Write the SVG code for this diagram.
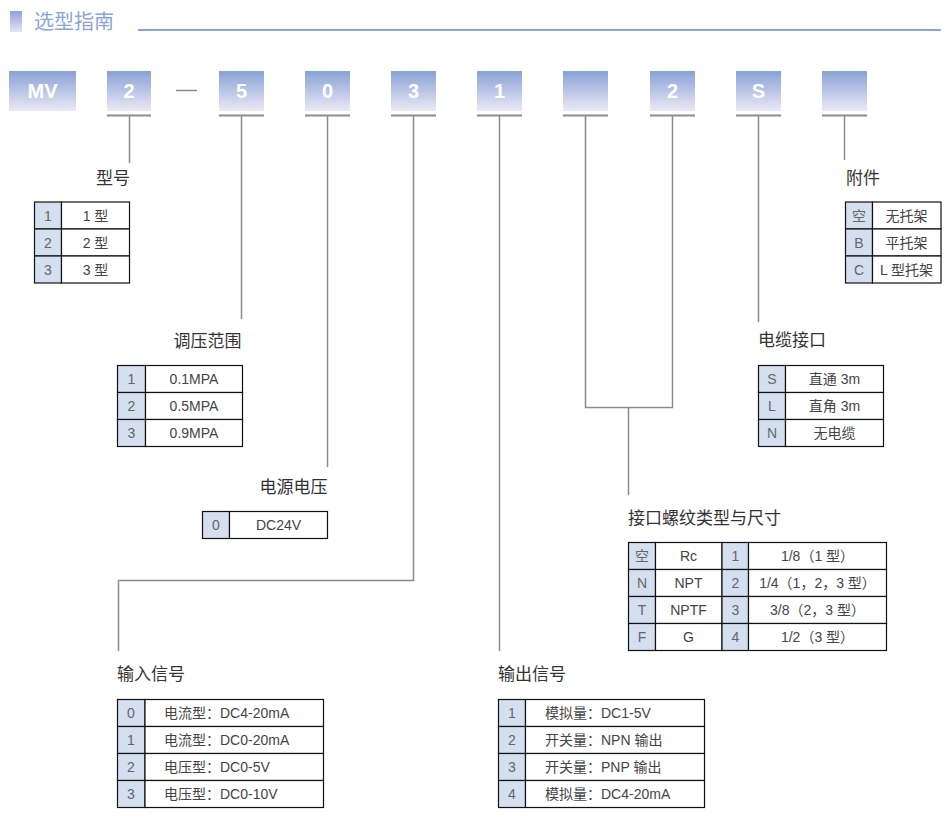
<svg xmlns="http://www.w3.org/2000/svg" width="952" height="819" viewBox="0 0 952 819">
<defs>
<linearGradient id="boxg" x1="0" y1="0" x2="0" y2="1">
<stop offset="0" stop-color="#88a2d5"/>
<stop offset="1" stop-color="#ece9f6"/>
</linearGradient>
<linearGradient id="barg" x1="0" y1="0" x2="0" y2="1">
<stop offset="0" stop-color="#8aa3d6"/>
<stop offset="1" stop-color="#e6e4f4"/>
</linearGradient>
<style>
text{font-family:"Liberation Sans","Noto Sans CJK SC",sans-serif}
.title{font-size:20px;fill:#8ca5d8}
.code{font-size:20px;font-weight:bold;fill:#ffffff;text-anchor:middle}
.lbl{font-size:17px;fill:#333333}
.t{font-size:14px;fill:#444444;text-anchor:middle}
.tl{font-size:14px;fill:#444444}
.k{font-size:14px;fill:#666666;text-anchor:middle}
.box{fill:url(#boxg)}
.ul{stroke:#8c8c8c;stroke-width:2;fill:none}
.cn{stroke:#8c8c8c;stroke-width:1.5;fill:none}
.cell{fill:#ffffff;stroke:#111111;stroke-width:1.2}
.kc{fill:#d4dff0;stroke:#111111;stroke-width:1.2}
</style>
</defs>
<rect width="952" height="819" fill="#ffffff"/>
<g id="header">
<rect x="10" y="11" width="12" height="21" fill="url(#barg)"/>
<text class="title" x="34" y="29">选型指南</text>
<line x1="138" y1="30" x2="941" y2="30" stroke="#8aa4d8" stroke-width="2"/>
</g>
<g id="code-boxes">
<g id="box-mv"><rect class="box" x="9" y="71" width="67" height="40"/><text class="code" x="42.5" y="98">MV</text></g>
<g id="box-2"><rect class="box" x="107" y="71" width="44" height="40"/><text class="code" x="129" y="98">2</text><line class="ul" x1="107" y1="115.5" x2="151" y2="115.5"/></g>
<line id="dash" x1="176" y1="90.5" x2="197" y2="90.5" stroke="#8c8c8c" stroke-width="1.5"/>
<g id="box-5"><rect class="box" x="219" y="71" width="45" height="40"/><text class="code" x="241.5" y="98">5</text><line class="ul" x1="219" y1="115.5" x2="264" y2="115.5"/></g>
<g id="box-0"><rect class="box" x="305" y="71" width="45" height="40"/><text class="code" x="327.5" y="98">0</text><line class="ul" x1="305" y1="115.5" x2="350" y2="115.5"/></g>
<g id="box-3"><rect class="box" x="391" y="71" width="45" height="40"/><text class="code" x="413.5" y="98">3</text><line class="ul" x1="391" y1="115.5" x2="436" y2="115.5"/></g>
<g id="box-1"><rect class="box" x="477" y="71" width="45" height="40"/><text class="code" x="499.5" y="98">1</text><line class="ul" x1="477" y1="115.5" x2="522" y2="115.5"/></g>
<g id="box-blank1"><rect class="box" x="563" y="71" width="45" height="40"/><line class="ul" x1="563" y1="115.5" x2="608" y2="115.5"/></g>
<g id="box-2b"><rect class="box" x="650" y="71" width="45" height="40"/><text class="code" x="672.5" y="98">2</text><line class="ul" x1="650" y1="115.5" x2="695" y2="115.5"/></g>
<g id="box-s"><rect class="box" x="736" y="71" width="45" height="40"/><text class="code" x="758.5" y="98">S</text><line class="ul" x1="736" y1="115.5" x2="781" y2="115.5"/></g>
<g id="box-blank2"><rect class="box" x="822" y="71" width="45" height="40"/><line class="ul" x1="822" y1="115.5" x2="867" y2="115.5"/></g>
</g>
<g id="connectors">
<path class="cn" d="M129.5 116 V163"/>
<path class="cn" d="M241.5 116 V319"/>
<path class="cn" d="M327.5 116 V467"/>
<path class="cn" d="M413.5 116 V580.5 H118.5 V651"/>
<path class="cn" d="M499.5 116 V651"/>
<path class="cn" d="M585.5 116 V407.5 H672.5 V116"/>
<path class="cn" d="M628.5 407.5 V495"/>
<path class="cn" d="M758.5 116 V322"/>
<path class="cn" d="M844.5 116 V160"/>
</g>
<g id="model">
<text class="lbl" x="96" y="184">型号</text>
<rect class="kc" x="34.5" y="202" width="27" height="27"/><rect class="cell" x="61.5" y="202" width="68" height="27"/>
<rect class="kc" x="34.5" y="229" width="27" height="27"/><rect class="cell" x="61.5" y="229" width="68" height="27"/>
<rect class="kc" x="34.5" y="256" width="27" height="27"/><rect class="cell" x="61.5" y="256" width="68" height="27"/>
<text class="k" x="48" y="220.5">1</text><text class="t" x="95.5" y="220.5">1 型</text>
<text class="k" x="48" y="247.5">2</text><text class="t" x="95.5" y="247.5">2 型</text>
<text class="k" x="48" y="274.5">3</text><text class="t" x="95.5" y="274.5">3 型</text>
</g>
<g id="pressure">
<text class="lbl" x="241.5" y="347" text-anchor="end">调压范围</text>
<rect class="kc" x="117.5" y="365.5" width="28" height="27"/><rect class="cell" x="145.5" y="365.5" width="97" height="27"/>
<rect class="kc" x="117.5" y="392.5" width="28" height="27"/><rect class="cell" x="145.5" y="392.5" width="97" height="27"/>
<rect class="kc" x="117.5" y="419.5" width="28" height="27"/><rect class="cell" x="145.5" y="419.5" width="97" height="27"/>
<text class="k" x="131.5" y="384">1</text><text class="t" x="194" y="384">0.1MPA</text>
<text class="k" x="131.5" y="411">2</text><text class="t" x="194" y="411">0.5MPA</text>
<text class="k" x="131.5" y="438">3</text><text class="t" x="194" y="438">0.9MPA</text>
</g>
<g id="power">
<text class="lbl" x="327.5" y="493" text-anchor="end">电源电压</text>
<rect class="kc" x="202.5" y="511.5" width="27" height="27"/><rect class="cell" x="229.5" y="511.5" width="98" height="27"/>
<text class="k" x="216" y="530">0</text><text class="t" x="278.5" y="530">DC24V</text>
</g>
<g id="input">
<text class="lbl" x="117" y="680">输入信号</text>
<rect class="kc" x="117.5" y="699.5" width="27.5" height="27"/><rect class="cell" x="145" y="699.5" width="178.5" height="27"/>
<rect class="kc" x="117.5" y="726.5" width="27.5" height="27"/><rect class="cell" x="145" y="726.5" width="178.5" height="27"/>
<rect class="kc" x="117.5" y="753.5" width="27.5" height="27"/><rect class="cell" x="145" y="753.5" width="178.5" height="27"/>
<rect class="kc" x="117.5" y="780.5" width="27.5" height="27"/><rect class="cell" x="145" y="780.5" width="178.5" height="27"/>
<text class="k" x="131" y="718">0</text><text class="tl" x="164" y="718">电流型：DC4-20mA</text>
<text class="k" x="131" y="745">1</text><text class="tl" x="164" y="745">电流型：DC0-20mA</text>
<text class="k" x="131" y="772">2</text><text class="tl" x="164" y="772">电压型：DC0-5V</text>
<text class="k" x="131" y="799">3</text><text class="tl" x="164" y="799">电压型：DC0-10V</text>
</g>
<g id="output">
<text class="lbl" x="498" y="680">输出信号</text>
<rect class="kc" x="498.5" y="699.5" width="27" height="27"/><rect class="cell" x="525.5" y="699.5" width="179" height="27"/>
<rect class="kc" x="498.5" y="726.5" width="27" height="27"/><rect class="cell" x="525.5" y="726.5" width="179" height="27"/>
<rect class="kc" x="498.5" y="753.5" width="27" height="27"/><rect class="cell" x="525.5" y="753.5" width="179" height="27"/>
<rect class="kc" x="498.5" y="780.5" width="27" height="27"/><rect class="cell" x="525.5" y="780.5" width="179" height="27"/>
<text class="k" x="512" y="718">1</text><text class="tl" x="545" y="718">模拟量：DC1-5V</text>
<text class="k" x="512" y="745">2</text><text class="tl" x="545" y="745">开关量：NPN 输出</text>
<text class="k" x="512" y="772">3</text><text class="tl" x="545" y="772">开关量：PNP 输出</text>
<text class="k" x="512" y="799">4</text><text class="tl" x="545" y="799">模拟量：DC4-20mA</text>
</g>
<g id="thread">
<text class="lbl" x="628" y="524">接口螺纹类型与尺寸</text>
<rect class="kc" x="628.5" y="542.5" width="27" height="27"/><rect class="cell" x="655.5" y="542.5" width="66.5" height="27"/><rect class="kc" x="722" y="542.5" width="26.5" height="27"/><rect class="cell" x="748.5" y="542.5" width="138" height="27"/>
<rect class="kc" x="628.5" y="569.5" width="27" height="27"/><rect class="cell" x="655.5" y="569.5" width="66.5" height="27"/><rect class="kc" x="722" y="569.5" width="26.5" height="27"/><rect class="cell" x="748.5" y="569.5" width="138" height="27"/>
<rect class="kc" x="628.5" y="596.5" width="27" height="27"/><rect class="cell" x="655.5" y="596.5" width="66.5" height="27"/><rect class="kc" x="722" y="596.5" width="26.5" height="27"/><rect class="cell" x="748.5" y="596.5" width="138" height="27"/>
<rect class="kc" x="628.5" y="623.5" width="27" height="27"/><rect class="cell" x="655.5" y="623.5" width="66.5" height="27"/><rect class="kc" x="722" y="623.5" width="26.5" height="27"/><rect class="cell" x="748.5" y="623.5" width="138" height="27"/>
<text class="k" x="642" y="561">空</text><text class="t" x="688.5" y="561">Rc</text><text class="k" x="735.5" y="561">1</text><text class="t" x="817.5" y="561">1/8（1 型）</text>
<text class="k" x="642" y="588">N</text><text class="t" x="688.5" y="588">NPT</text><text class="k" x="735.5" y="588">2</text><text class="t" x="817.5" y="588">1/4（1，2，3 型）</text>
<text class="k" x="642" y="615">T</text><text class="t" x="688.5" y="615">NPTF</text><text class="k" x="735.5" y="615">3</text><text class="t" x="817.5" y="615">3/8（2，3 型）</text>
<text class="k" x="642" y="642">F</text><text class="t" x="688.5" y="642">G</text><text class="k" x="735.5" y="642">4</text><text class="t" x="817.5" y="642">1/2（3 型）</text>
</g>
<g id="cable">
<text class="lbl" x="758" y="346">电缆接口</text>
<rect class="kc" x="758.5" y="365.5" width="27" height="27"/><rect class="cell" x="785.5" y="365.5" width="98" height="27"/>
<rect class="kc" x="758.5" y="392.5" width="27" height="27"/><rect class="cell" x="785.5" y="392.5" width="98" height="27"/>
<rect class="kc" x="758.5" y="419.5" width="27" height="27"/><rect class="cell" x="785.5" y="419.5" width="98" height="27"/>
<text class="k" x="772" y="384">S</text><text class="t" x="834.5" y="384">直通 3m</text>
<text class="k" x="772" y="411">L</text><text class="t" x="834.5" y="411">直角 3m</text>
<text class="k" x="772" y="438">N</text><text class="t" x="834.5" y="438">无电缆</text>
</g>
<g id="accessory">
<text class="lbl" x="846" y="184">附件</text>
<rect class="kc" x="845.5" y="202" width="27" height="27"/><rect class="cell" x="872.5" y="202" width="68.5" height="27"/>
<rect class="kc" x="845.5" y="229" width="27" height="27"/><rect class="cell" x="872.5" y="229" width="68.5" height="27"/>
<rect class="kc" x="845.5" y="256" width="27" height="27"/><rect class="cell" x="872.5" y="256" width="68.5" height="27"/>
<text class="k" x="859" y="220.5">空</text><text class="t" x="906.5" y="220.5">无托架</text>
<text class="k" x="859" y="247.5">B</text><text class="t" x="906.5" y="247.5">平托架</text>
<text class="k" x="859" y="274.5">C</text><text class="t" x="906.5" y="274.5">L 型托架</text>
</g>
</svg>
